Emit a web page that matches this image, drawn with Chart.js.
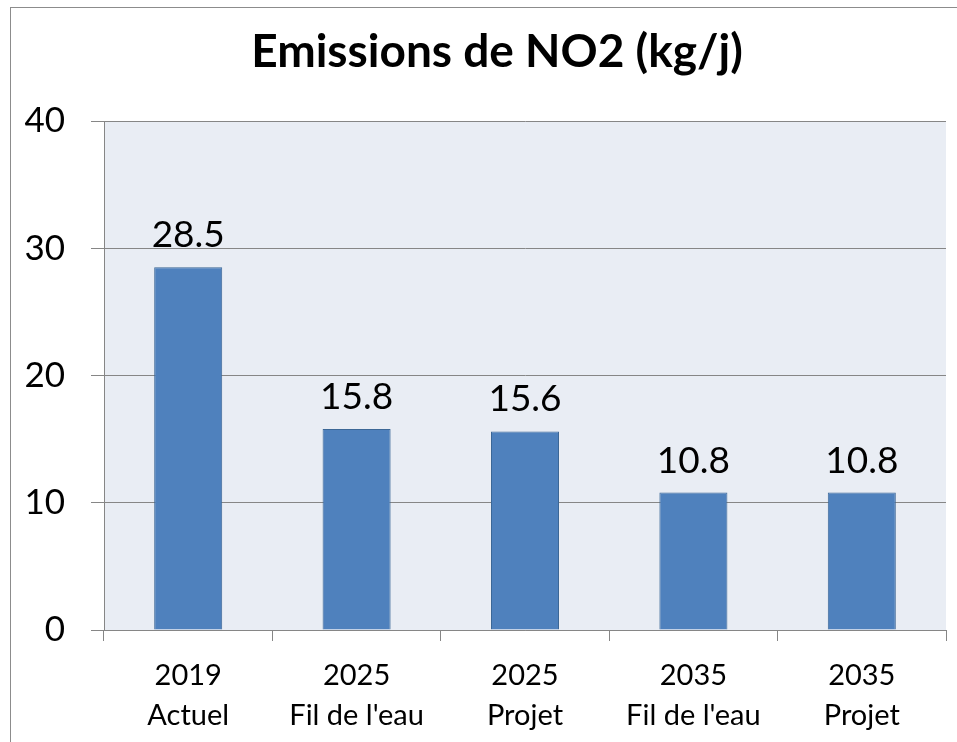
<!DOCTYPE html>
<html>
<head>
<meta charset="utf-8">
<script src="https://cdn.jsdelivr.net/npm/chart.js@4.4.0/dist/chart.umd.min.js"></script>
<style>
  html, body { margin: 0; padding: 0; background: #fff; }
  #chart { display: block; }
</style>
</head>
<body>
<canvas id="chart" width="957" height="742"></canvas>
<script>
// data
var categories = [['2019', 'Actuel'], ['2025', "Fil de l'eau"], ['2025', 'Projet'], ['2035', "Fil de l'eau"], ['2035', 'Projet']];
var no2Values = [28.5, 15.8, 15.6, 10.8, 10.8];
var yTicks = [0, 10, 20, 30, 40];
var titleText = 'Emissions de NO2 (kg/j)';

var FONT = 'Lato, "Open Sans", sans-serif';

// light blue plot background, outer frame and the title (off-centre like the original)
var framePlugin = {
    id: 'frame',
    beforeDraw: function(chart) {
        var ctx = chart.ctx, a = chart.chartArea;
        ctx.save();
        ctx.fillStyle = '#e9edf4';
        ctx.fillRect(a.left, a.top, a.right - a.left, a.bottom - a.top);
        ctx.restore();
    },
    afterDraw: function(chart) {
        var ctx = chart.ctx;
        ctx.save();
        ctx.strokeStyle = '#8c8c8c';
        ctx.lineWidth = 1;
        ctx.strokeRect(10.5, 7.5, 1200, 1200);
        ctx.font = 'bold 46px ' + FONT;
        ctx.fillStyle = '#000';
        ctx.textAlign = 'center';
        ctx.textBaseline = 'alphabetic';
        ctx.fillText(titleText, 497, 67);
        ctx.restore();
    }
};

// value labels above each bar
var valueLabels = {
    id: 'valueLabels',
    afterDatasetsDraw: function(chart) {
        var ctx = chart.ctx;
        var meta = chart.getDatasetMeta(0);
        ctx.save();
        ctx.font = '37px ' + FONT;
        ctx.fillStyle = '#000';
        ctx.textAlign = 'center';
        ctx.textBaseline = 'alphabetic';
        meta.data.forEach(function(bar, i) {
            ctx.fillText(no2Values[i].toFixed(1), bar.x, bar.y - 20);
        });
        ctx.restore();
    }
};

var canvas = document.getElementById('chart');
var chart = new Chart(canvas, {
    type: 'bar',
    data: {
        labels: categories,
        datasets: [{
            label: 'NO2',
            data: no2Values,
            backgroundColor: '#4f81bd',
            borderColor: '#3c6796',
            borderWidth: 1,
            barPercentage: 0.404,
            categoryPercentage: 1
        }]
    },
    options: {
        responsive: false,
        animation: false,
        layout: { padding: { left: 0, right: 11, top: 121, bottom: 0 } },
        plugins: {
            legend: { display: false },
            tooltip: { enabled: false },
            title: { display: false }
        },
        scales: {
            x: {
                grid: { offset: true, drawOnChartArea: false, drawTicks: true, tickLength: 11, color: '#868686' },
                border: { color: '#868686' },
                ticks: { color: '#000', font: { family: FONT, size: 29, lineHeight: 1.36 }, padding: 15, maxRotation: 0, autoSkip: false },
                afterFit: function(scale) { scale.height = 112; }
            },
            y: {
                min: 0,
                max: 40,
                afterBuildTicks: function(scale) {
                    scale.ticks = yTicks.map(function(v) { return { value: v }; });
                },
                grid: { color: '#868686', tickLength: 13, drawTicks: true },
                border: { color: '#868686' },
                ticks: { color: '#000', font: { family: FONT, size: 35 }, padding: 26 },
                afterFit: function(scale) { scale.width = 104; }
            }
        }
    },
    plugins: [framePlugin, valueLabels]
});
</script>
</body>
</html>
